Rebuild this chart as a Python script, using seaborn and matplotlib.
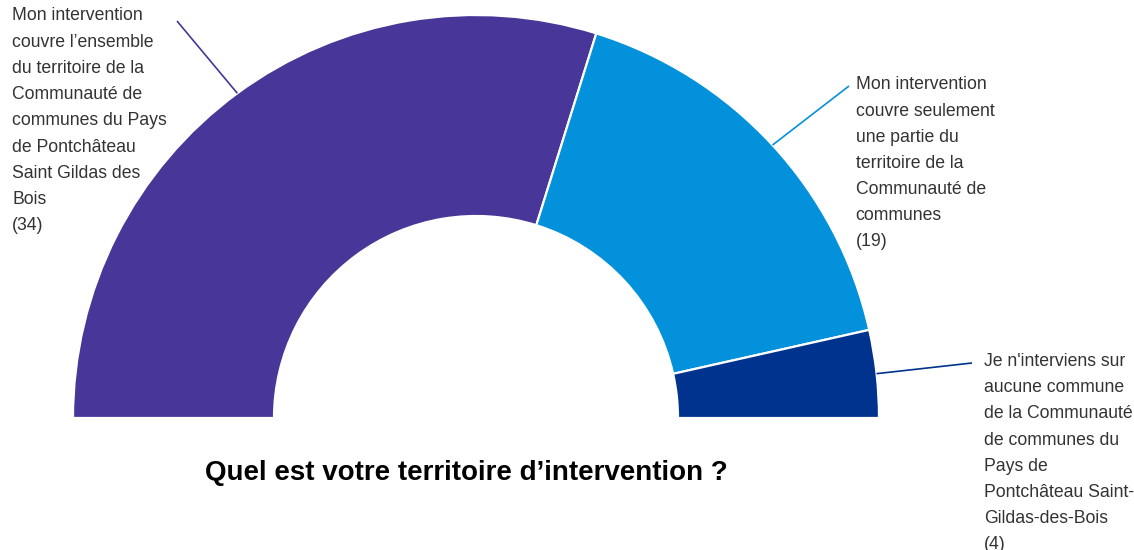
import numpy as np
import matplotlib
matplotlib.use("Agg")
import matplotlib.pyplot as plt
import seaborn as sns

# Survey answers: "Quel est votre territoire d'intervention ?"
counts = [34, 19, 4]
labels = [
    ["Mon intervention", "couvre l\u2019ensemble", "du territoire de la",
     "Communauté de", "communes du Pays", "de Pontchâteau",
     "Saint Gildas des", "Bois", "(34)"],
    ["Mon intervention", "couvre seulement", "une partie du",
     "territoire de la", "Communauté de", "communes", "(19)"],
    ["Je n'interviens sur", "aucune commune", "de la Communauté",
     "de communes du", "Pays de", "Pontchâteau Saint-",
     "Gildas-des-Bois", "(4)"],
]
title = "Quel est votre territoire d\u2019intervention ?"
colors = ["#483698", "#0391dc", "#00338d"]

sns.set_theme(style="white")
plt.rcParams["font.family"] = ["Liberation Sans", "DejaVu Sans"]

W, H = 1134, 550
fig = plt.figure(figsize=(W / 100, H / 100), dpi=100)
ax = fig.add_axes([0, 0, 1, 1])

def py(y):
    # pixel-style y (top = 0) to data y
    return H - y

cx, cy = 476, py(418)
r_out, r_in = 403, 202

total = sum(counts)
fracs = [c / (2 * total) for c in counts]  # half donut
wedges, _ = ax.pie(
    fracs, normalize=False, colors=colors, startangle=180, counterclock=False,
    center=(cx, cy), radius=r_out,
    wedgeprops=dict(width=r_out - r_in, edgecolor="white", linewidth=1.6),
)
ax.set_xlim(0, W)
ax.set_ylim(0, H)
ax.set_aspect("auto")
ax.axis("off")

# label blocks: left x, first baseline (top-down), leader end point
label_pos = [(12, 20.5), (855.5, 89.3), (984, 366)]
leader_end = [(177, 21), (849, 86), (972, 363)]
line_step = 26.2
fs = 12.7

for w, lines, (lx, ly), (ex, ey), col in zip(wedges, labels, label_pos, leader_end, colors):
    mid = np.deg2rad((w.theta1 + w.theta2) / 2)
    sx, sy = cx + r_out * np.cos(mid), cy + r_out * np.sin(mid)
    ax.plot([sx, ex], [sy, py(ey)], color=col, lw=1.2, solid_capstyle="butt")
    for i, t in enumerate(lines):
        ax.text(lx, py(ly + i * line_step), t, fontsize=fs, color="#333333",
                ha="left", va="baseline")

ax.text(466, py(480), title, fontsize=20, fontweight="bold", color="#000000",
        ha="center", va="baseline")

fig.savefig("out.png", dpi=100, facecolor="white")
